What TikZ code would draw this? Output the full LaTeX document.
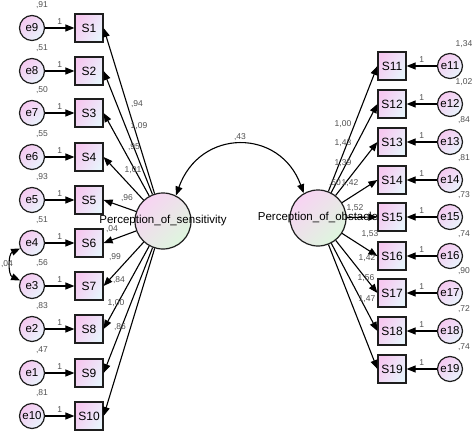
\documentclass[tikz,border=0pt]{standalone}
\usepackage{fontspec}
\setmainfont{Liberation Sans}
\usetikzlibrary{arrows.meta,shapes.geometric}
\definecolor{pinkA}{RGB}{246,200,240}
\definecolor{blueA}{RGB}{232,244,252}
\definecolor{greenA}{RGB}{222,246,222}
\definecolor{numgray}{RGB}{80,80,80}
\definecolor{edgegray}{RGB}{30,30,30}
\tikzset{
  obsbox/.style={draw=edgegray,line width=1.2pt,minimum width=28pt,minimum height=28pt,inner sep=0pt,
    left color=pinkA,right color=blueA,shading angle=60,font=\fontsize{12}{13}\selectfont},
  errc/.style={circle,draw=edgegray,line width=1.2pt,minimum size=25pt,inner sep=0pt,
    left color=pinkA,right color=blueA,shading angle=45,font=\fontsize{11.5}{12}\selectfont},
  latc/.style={circle,draw=edgegray,line width=1.2pt,minimum size=56pt,inner sep=0pt,
    left color=pinkA!80,right color=greenA,shading angle=45},
  num/.style={font=\fontsize{8.5}{9}\selectfont,text=numgray,inner sep=0pt},
  arr/.style={-{Triangle[length=9pt,width=7pt]},line width=1.1pt,black},
  darr/.style={{Triangle[length=9pt,width=7pt]}-{Triangle[length=9pt,width=7pt]},line width=1.1pt,black}
}
\begin{document}
\begin{tikzpicture}[x=1pt,y=-1pt]
\useasboundingbox (0,0) rectangle (474,433);
% latent variables
\node[latc,label={[font=\fontsize{11.5}{12}\selectfont,inner sep=0pt]center:Perception\_of\_sensitivity}] (sens) at (163,221) {};
\node[latc,label={[font=\fontsize{11.5}{12}\selectfont,inner sep=0pt]center:Perception\_of\_obstacle}] (obst) at (318,218) {};
% left side
\foreach \s/\e/\y/\v/\l/\lx/\ly in {
  S1/e9/28/{,91}/{,94}/137/104,
  S2/e8/71/{,51}/{1,09}/139/126,
  S3/e7/113/{,50}/{,95}/134/147,
  S4/e6/157/{,55}/{1,01}/133/170,
  S5/e5/200/{,93}/{,96}/127/198,
  S6/e4/243/{,51}/{,04}/112/229,
  S7/e3/286/{,56}/{,99}/115/257,
  S8/e2/329/{,83}/{,84}/119/280,
  S9/e1/373/{,47}/{1,00}/116/303,
  S10/e10/416/{,81}/{,86}/120/327}{
  \node[obsbox] (\s) at (89,\y) {\s};
  \node[errc] (\e) at (32,\y) {\e};
  \node[num] (v\e) at (42,\y-23) {\v};
  \draw[arr] (\e) -- node[num,above=3pt] (w\e) {1} (\s);
  \draw[arr] (sens) -- (\s.east);
  \node[num] (l\s) at (\lx,\ly) {\l};
}
% right side
\foreach \s/\e/\y/\v/\l/\lx/\ly in {
  S11/e11/66/{1,34}/{1,00}/343/124,
  S12/e12/104/{1,02}/{1,43}/343/143,
  S13/e13/142/{,84}/{1,39}/343/163,
  S14/e14/180/{,81}/{1,42}/350/183,
  S15/e15/217/{,73}/{1,52}/355/208,
  S16/e16/256/{,74}/{1,53}/370/234,
  S17/e17/293/{,90}/{1,42}/367/258,
  S18/e18/331/{,72}/{1,56}/366/278,
  S19/e19/369/{,74}/{1,47}/367/299}{
  \node[obsbox] (\s) at (392,\y) {\s};
  \node[errc] (\e) at (450,\y) {\e};
  \node[num] (v\e) at (464,\y-22) {\v};
  \draw[arr] (\e) -- node[num,above=3pt] (w\e) {1} (\s);
  \draw[arr] (obst) -- (\s.west);
  \node[num] (l\s) at (\lx,\ly) {\l};
}
\node[num] (vobst) at (335,183) {,50};
% covariances
\draw[darr] (sens.63) .. controls (200,128) and (280,128) .. node[num,above=3pt] (c1) {,43} (obst.120);
\draw[darr] (e4.205) .. controls (8,254) and (8,275) .. (e3.155);
\node[num] (c2) at (7,264) {,04};
\end{tikzpicture}
\end{document}
